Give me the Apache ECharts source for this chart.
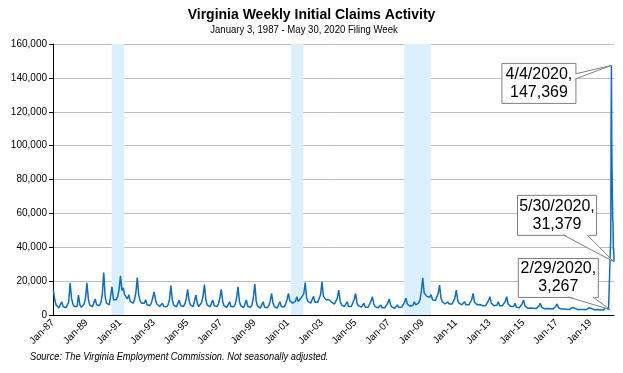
<!DOCTYPE html>
<html><head><meta charset="utf-8">
<script src="https://cdn.jsdelivr.net/npm/echarts@6/dist/echarts.min.js"></script>
<style>html,body{margin:0;padding:0;background:#fff}#c{width:623px;height:373px}</style>
</head><body><div id="c"></div>
<script>
// ---- Data (monthly readings 1987-2019, weekly 2020) ----
const v1987=[14700,9000,6000,5000,4200,4500,7800,5000,4000,4300,5000,7500];
const v1988=[18800,10000,6500,5000,4500,5000,11800,6000,4500,5000,6500,10000];
const v1989=[19000,9500,6000,5000,4800,5500,9400,6000,5000,5500,7500,12000];
const v1990=[25100,11000,7000,6000,6000,7000,16700,9000,8000,9000,11000,15000];
const v1991=[23100,14500,16000,12000,11000,9500,12000,8000,7000,7000,9000,13000];
const v1992=[22100,12000,8500,7000,6500,7000,9000,6000,5500,5500,7000,10000];
const v1993=[13700,9000,6500,5500,5000,5500,6900,5000,4500,4800,6000,9000];
const v1994=[17300,9000,6000,5000,4800,5500,8800,5500,4500,5000,6500,9500];
const v1995=[15100,8500,6000,5000,5000,6000,11800,6500,5000,5500,7500,11000];
const v1996=[18000,9000,6000,5000,4800,5500,8800,5500,4500,5000,6500,10000];
const v1997=[15100,8000,5500,4800,4500,5000,7800,5000,4300,4800,6500,10000];
const v1998=[16700,8000,5500,4500,4300,5000,8800,5000,4200,4600,6000,10500];
const v1999=[18200,8000,5200,4300,4000,4800,7800,4600,4000,4300,5500,8000];
const v2000=[12700,7000,5000,4200,4000,4800,7800,4800,4200,4800,6500,9000];
const v2001=[12700,8500,7500,7000,7500,8000,10800,8000,8500,10000,9500,12500];
const v2002=[19200,10000,8000,7500,7000,8000,11100,7500,7000,7500,8500,12000];
const v2003=[19600,11000,10000,9000,8500,9000,9500,7500,6500,6500,7500,10000];
const v2004=[14700,8000,6000,5500,5000,5500,7800,5000,4800,5000,6000,9000];
const v2005=[12700,7000,5500,5000,4600,5000,6900,4600,4500,4600,5500,8000];
const v2006=[10800,6500,5000,4500,4200,4600,5900,4300,4000,4300,5200,7000];
const v2007=[9400,6000,4800,4300,4000,4500,5900,4500,4300,4600,5500,7500];
const v2008=[10000,6500,5500,5200,5000,5800,7800,6000,6000,7000,9000,14000];
const v2009=[21900,13000,12500,11000,10000,10500,12000,9000,8500,8500,9500,12500];
const v2010=[17600,10000,8000,7000,6500,7000,7800,6500,6000,6500,7500,10000];
const v2011=[14700,8500,7000,6500,6000,6500,7800,6000,5800,6000,7000,9000];
const v2012=[12700,7500,6500,6000,5800,6200,7000,5500,5300,5500,6500,8500];
const v2013=[10800,7000,6000,5500,5200,5800,7800,5500,5000,5500,6000,8000];
const v2014=[10800,6500,5500,5000,4600,5000,6900,4600,4300,4300,5000,6500];
const v2015=[8800,5500,4500,4000,3800,4200,5000,4000,3700,3800,4300,5200];
const v2016=[6900,4500,4000,3700,3500,3800,4600,3700,3400,3500,4000,5000];
const v2017=[6500,4300,3800,3500,3300,3600,4300,3400,3300,3300,3700,4500];
const v2018=[5300,3800,3400,3200,3000,3300,4000,3200,3000,3100,3500,4300];
const v2019=[5300,3700,3300,3000,2900,3200,3800,3000,2800,3000,3400,4200];
const years=[1987,1988,1989,1990,1991,1992,1993,1994,1995,1996,1997,1998,1999,2000,2001,2002,2003,2004,2005,2006,2007,2008,2009,2010,2011,2012,2013,2014,2015,2016,2017,2018,2019];
const monthlyByYear=[v1987,v1988,v1989,v1990,v1991,v1992,v1993,v1994,v1995,v1996,v1997,v1998,v1999,v2000,v2001,v2002,v2003,v2004,v2005,v2006,v2007,v2008,v2009,v2010,v2011,v2012,v2013,v2014,v2015,v2016,v2017,v2018,v2019];
const weeks2020=['2020-01-04','2020-01-11','2020-01-18','2020-01-25','2020-02-01','2020-02-08','2020-02-15','2020-02-22','2020-02-29','2020-03-07','2020-03-14','2020-03-21','2020-03-28','2020-04-04','2020-04-11','2020-04-18','2020-04-25','2020-05-02','2020-05-09','2020-05-16','2020-05-23','2020-05-30'];
const claims2020=[4900,4200,3700,3500,3400,3300,3200,3300,3267,2900,2706,46277,112497,147369,104740,84059,69514,56205,54024,38262,39523,31379];
const recessions=[['1990-07-01','1991-03-31'],['2001-03-01','2001-11-30'],['2007-12-01','2009-06-30']];
const yTicks=[0,20000,40000,60000,80000,100000,120000,140000,160000];
const annoDates=['2020-04-04','2020-05-30','2020-02-29'];
const annoValues=[147369,31379,3267];

// ---- helpers ----
const T0=Date.UTC(1987,0,1), YR=365.2425*86400000;
const toX=ms=>(ms-T0)/YR;
const parse=s=>{const p=s.split('-').map(Number);return Date.UTC(p[0],p[1]-1,p[2]);};
const data=[];
years.forEach((y,i)=>monthlyByYear[i].forEach((v,m)=>data.push([toX(Date.UTC(y,m,8)),v])));
weeks2020.forEach((d,i)=>data.push([toX(parse(d)),claims2020[i]]));
const xMax=toX(parse(weeks2020[weeks2020.length-1]));

const F='"Liberation Sans", Arial, sans-serif';
const chart=echarts.init(document.getElementById('c'));
chart.setOption({
  animation:false,
  title:[
    {text:'Virginia Weekly Initial Claims Activity',left:'center',top:3,textStyle:{fontFamily:F,fontWeight:'bold',fontSize:14,color:'#000'}}
  ],
  grid:{left:53,right:9,top:44,bottom:58},
  xAxis:{type:'value',min:0,max:xMax,interval:2,
    axisLine:{lineStyle:{color:'#000',width:1}},axisTick:{show:false},splitLine:{show:false},
    axisLabel:{rotate:45,fontFamily:F,fontSize:10,color:'#000',margin:6,showMaxLabel:false,
      formatter:v=>{const r=Math.round(v);if(Math.abs(v-r)>1e-6||r%2)return '';return 'Jan-'+String(1987+r).slice(2);}}},
  yAxis:{type:'value',min:yTicks[0],max:yTicks[yTicks.length-1],interval:yTicks[1]-yTicks[0],
    axisLine:{show:true,lineStyle:{color:'#000',width:1}},axisTick:{show:true,length:4,lineStyle:{color:'#000'}},
    splitLine:{lineStyle:{color:'#BFBFBF',width:1}},
    axisLabel:{fontFamily:F,fontSize:10,color:'#000',margin:6,formatter:v=>v.toLocaleString('en-US')}},
  series:[{type:'line',data:data,symbol:'none',lineStyle:{color:'#0B6FC4',width:1.5},
    markArea:{silent:true,itemStyle:{color:'#DCEFFD'},
      data:recessions.map(r=>[{xAxis:toX(parse(r[0]))},{xAxis:toX(parse(r[1]))}])}}]
});

// ---- callouts positioned from data via convertToPixel ----
const boxes=[
  {dx:-110,dy:-2.5,w:74,h:40,base:'right',b0:11,b1:16},
  {dx:-97,dy:-67,w:79,h:40,base:'bottom',b0:46,b1:70},
  {dx:-92,dy:-51.5,w:80,h:39,base:'bottom',b0:50,b1:75}
];
const g=[
  {type:'text',x:304,y:30,scaleX:0.87,originX:0,style:{text:'January 3, 1987 - May 30, 2020 Filing Week',x:0,y:0,align:'center',verticalAlign:'middle',font:'11px '+F,fill:'#000'}},
  {type:'text',x:30,y:357,scaleX:0.845,style:{text:'Source: The Virginia Employment Commission. Not seasonally adjusted.',x:0,y:0,align:'left',verticalAlign:'middle',font:'italic 11px '+F,fill:'#000'}}
];
annoDates.forEach((d,i)=>{
  const p=chart.convertToPixel({gridIndex:0},[toX(parse(d)),annoValues[i]]);
  const b=boxes[i];const L=p[0]+b.dx,Tp=p[1]+b.dy;
  let a,c;
  if(b.base==='right'){a=[L+b.w,Tp+b.b0];c=[L+b.w,Tp+b.b1];}
  else{a=[L+b.b0,Tp+b.h];c=[L+b.b1,Tp+b.h];}
  const [mm,dd,yy]=[+d.slice(5,7),+d.slice(8,10),d.slice(0,4)];
  g.push({type:'rect',shape:{x:L+0.5,y:Tp+0.5,width:b.w,height:b.h},style:{fill:'#fff',stroke:'#7F7F7F',lineWidth:1},z:100});
  const inA=b.base==='right'?[a[0]-1,a[1]]:[a[0],a[1]-1], inC=b.base==='right'?[c[0]-1,c[1]]:[c[0],c[1]-1];
  g.push({type:'polygon',shape:{points:[inA,[p[0],p[1]],inC]},style:{fill:'#fff',stroke:null},z:101});
  g.push({type:'polyline',shape:{points:[a,[p[0],p[1]],c]},style:{stroke:'#7F7F7F',lineWidth:1,fill:null},z:102});
  g.push({type:'text',style:{text:mm+'/'+dd+'/'+yy+',\n'+annoValues[i].toLocaleString('en-US'),x:L+b.w/2+0.5,y:Tp+b.h/2+0.5,align:'center',verticalAlign:'middle',font:'16px '+F,lineHeight:18,fill:'#000'},z:103});
});
chart.setOption({graphic:g});
</script></body></html>
